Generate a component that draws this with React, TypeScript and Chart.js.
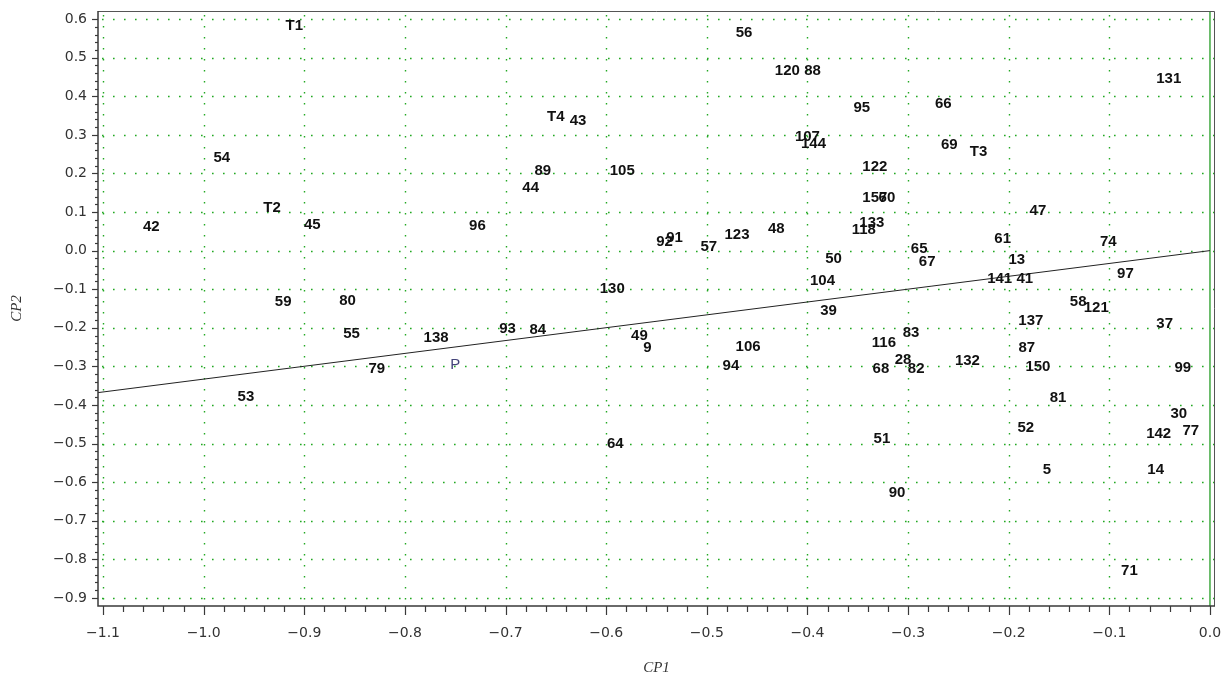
import React, { useEffect, useRef } from "react";
import { Chart, registerables } from "chart.js";

Chart.register(...registerables);

// Observation labels and their coordinates on the first two components
const pointLabels = [
  "T1", "54", "T2", "42", "45", "59", "80", "55", "79", "53",
  "138", "P", "93", "84", "96", "89", "44", "T4", "43", "105",
  "130", "49", "9", "64", "92", "91", "57", "123", "48", "56",
  "120", "88", "107", "144", "95", "66", "122", "157", "60", "133",
  "118", "69", "T3", "50", "104", "39", "106", "94", "65", "67",
  "116", "83", "28", "68", "82", "51", "90", "132", "61", "13",
  "141", "41", "47", "137", "87", "150", "81", "52", "5", "74",
  "97", "58", "121", "37", "99", "30", "142", "77", "14", "71",
  "131",
];

const cp1 = [
  -0.910, -0.982, -0.932, -1.052, -0.892, -0.921, -0.857, -0.853, -0.828, -0.958,
  -0.769, -0.750, -0.698, -0.668, -0.728, -0.663, -0.675, -0.650, -0.628, -0.584,
  -0.594, -0.567, -0.559, -0.591, -0.542, -0.532, -0.498, -0.470, -0.431, -0.463,
  -0.420, -0.395, -0.400, -0.394, -0.346, -0.265, -0.333, -0.333, -0.321, -0.336,
  -0.344, -0.259, -0.230, -0.374, -0.385, -0.379, -0.459, -0.476, -0.289, -0.281,
  -0.324, -0.297, -0.305, -0.327, -0.292, -0.326, -0.311, -0.241, -0.206, -0.192,
  -0.209, -0.184, -0.171, -0.178, -0.182, -0.171, -0.151, -0.183, -0.162, -0.101,
  -0.084, -0.131, -0.113, -0.045, -0.027, -0.031, -0.051, -0.019, -0.054, -0.080,
  -0.041,
];

const cp2 = [
  0.582, 0.241, 0.111, 0.062, 0.067, -0.133, -0.130, -0.217, -0.307, -0.378,
  -0.227, -0.295, -0.204, -0.206, 0.063, 0.207, 0.163, 0.347, 0.336, 0.207,
  -0.098, -0.221, -0.251, -0.502, 0.023, 0.034, 0.011, 0.040, 0.057, 0.565,
  0.466, 0.466, 0.295, 0.277, 0.371, 0.381, 0.217, 0.137, 0.136, 0.073,
  0.053, 0.274, 0.257, -0.021, -0.079, -0.156, -0.249, -0.299, 0.005, -0.029,
  -0.240, -0.212, -0.284, -0.307, -0.307, -0.487, -0.627, -0.286, 0.031, -0.024,
  -0.074, -0.072, 0.103, -0.182, -0.251, -0.301, -0.381, -0.459, -0.568, 0.023,
  -0.060, -0.133, -0.148, -0.189, -0.305, -0.424, -0.476, -0.466, -0.569, -0.830,
  0.444,
];

// Fitted direction through the origin
const trendX = [-1.105, 0];
const trendY = [-0.368, 0];

// Axis ticks
const xTickValues = [-1.1, -1.0, -0.9, -0.8, -0.7, -0.6, -0.5, -0.4, -0.3, -0.2, -0.1, 0.0];
const xTickLabels = ["−1.1", "−1.0", "−0.9", "−0.8", "−0.7", "−0.6", "−0.5", "−0.4", "−0.3", "−0.2", "−0.1", "0.0"];
const yTickValues = [0.6, 0.5, 0.4, 0.3, 0.2, 0.1, 0.0, -0.1, -0.2, -0.3, -0.4, -0.5, -0.6, -0.7, -0.8, -0.9];
const yTickLabels = ["0.6", "0.5", "0.4", "0.3", "0.2", "0.1", "0.0", "−0.1", "−0.2", "−0.3", "−0.4", "−0.5", "−0.6", "−0.7", "−0.8", "−0.9"];
const minorStep = 0.02;

const GRID_GREEN = "#22a822";
const AXIS_DARK = "#3a3a3a";

const decorPlugin = {
  id: "decor",
  beforeDatasetsDraw(chart: any) {
    const { ctx, chartArea: a, scales } = chart;
    const x = scales.x;
    const y = scales.y;
    ctx.save();
    ctx.strokeStyle = GRID_GREEN;
    ctx.lineWidth = 1.4;
    ctx.setLineDash([1.6, 9.4]);
    xTickValues.forEach((v) => {
      if (v === 0) return;
      const px = Math.round(x.getPixelForValue(v)) + 0.5;
      ctx.beginPath();
      ctx.moveTo(px, a.top + 4);
      ctx.lineTo(px, a.bottom);
      ctx.stroke();
    });
    yTickValues.forEach((v) => {
      const py = Math.round(y.getPixelForValue(v)) + 0.5;
      ctx.beginPath();
      ctx.moveTo(a.left + 4, py);
      ctx.lineTo(a.right, py);
      ctx.stroke();
    });
    ctx.setLineDash([]);
    // reference line at CP1 = 0
    const zx = x.getPixelForValue(0);
    ctx.strokeStyle = "#4cae4c";
    ctx.lineWidth = 1.6;
    ctx.beginPath();
    ctx.moveTo(zx, a.top);
    ctx.lineTo(zx, a.bottom);
    ctx.stroke();
    ctx.restore();
  },
  afterDatasetsDraw(chart: any) {
    const { ctx, chartArea: a, scales } = chart;
    const x = scales.x;
    const y = scales.y;
    ctx.save();

    // frame
    ctx.strokeStyle = "#555";
    ctx.lineWidth = 1;
    ctx.beginPath();
    ctx.moveTo(a.left, a.top + 0.5);
    ctx.lineTo(a.right - 0.5, a.top + 0.5);
    ctx.lineTo(a.right - 0.5, a.bottom);
    ctx.stroke();
    ctx.strokeStyle = AXIS_DARK;
    ctx.lineWidth = 1.5;
    ctx.beginPath();
    ctx.moveTo(a.left, a.top);
    ctx.lineTo(a.left, a.bottom);
    ctx.lineTo(a.right, a.bottom);
    ctx.stroke();

    // tick marks
    ctx.lineWidth = 1.2;
    const xmin = xTickValues[0];
    const xmax = xTickValues[xTickValues.length - 1];
    const nx = Math.round((xmax - xmin) / minorStep);
    for (let i = 0; i <= nx; i++) {
      const v = xmin + i * minorStep;
      const major = i % 5 === 0;
      const px = Math.round(x.getPixelForValue(v)) + 0.5;
      ctx.beginPath();
      ctx.moveTo(px, a.bottom);
      ctx.lineTo(px, a.bottom + (major ? 9 : 6));
      ctx.stroke();
    }
    const ymin = yTickValues[yTickValues.length - 1];
    const ymax = yTickValues[0];
    const ny = Math.round((ymax - ymin) / minorStep);
    for (let i = 0; i <= ny; i++) {
      const v = ymin + i * minorStep;
      const major = i % 5 === 0;
      const py = Math.round(y.getPixelForValue(v)) + 0.5;
      ctx.beginPath();
      ctx.moveTo(a.left, py);
      ctx.lineTo(a.left - (major ? 6 : 3), py);
      ctx.stroke();
    }

    // observation labels
    const meta = chart.getDatasetMeta(1);
    ctx.textAlign = "center";
    ctx.textBaseline = "middle";
    meta.data.forEach((el: any, i: number) => {
      const label = pointLabels[i];
      if (label === "P") {
        ctx.font = "15px 'Liberation Sans', Arial, sans-serif";
        ctx.fillStyle = "#44447a";
      } else {
        ctx.font = "bold 15px 'Liberation Sans', Arial, sans-serif";
        ctx.fillStyle = "#111";
      }
      ctx.fillText(label, el.x, el.y);
    });
    ctx.restore();
  },
};

const zeroScalePadding = (scale: any) => {
  scale.paddingLeft = 0;
  scale.paddingRight = 0;
  scale.paddingTop = 0;
  scale.paddingBottom = 0;
};

export default function App() {
  const canvasRef = useRef<HTMLCanvasElement | null>(null);

  useEffect(() => {
    const canvas = canvasRef.current;
    if (!canvas) return;

    const trendData = trendX.map((v, i) => ({ x: v, y: trendY[i] }));
    const obsData = cp1.map((v, i) => ({ x: v, y: cp2[i] }));

    const chart = new Chart(canvas, {
      type: "scatter",
      data: {
        datasets: [
          {
            type: "line",
            data: trendData,
            borderColor: "#222",
            borderWidth: 1,
            pointRadius: 0,
            fill: false,
          } as any,
          {
            data: obsData,
            pointRadius: 0,
            pointHoverRadius: 0,
          },
        ],
      },
      options: {
        responsive: false,
        devicePixelRatio: 1,
        animation: false,
        events: [],
        layout: { padding: { top: 11, right: 6, left: 0, bottom: 0 } },
        plugins: {
          legend: { display: false },
          tooltip: { enabled: false },
        },
        scales: {
          x: {
            type: "linear",
            min: -1.105,
            max: 0.005,
            afterBuildTicks: (axis: any) => {
              axis.ticks = xTickValues.map((v) => ({ value: v }));
            },
            afterFit: (scale: any) => {
              scale.height = 70;
              zeroScalePadding(scale);
            },
            grid: { display: false, drawTicks: false },
            border: { display: false },
            ticks: {
              autoSkip: false,
              maxRotation: 0,
              minRotation: 0,
              padding: 19,
              color: "#333",
              font: { family: "'DejaVu Sans', sans-serif", size: 14 },
              callback: (_v: any, i: number) => xTickLabels[i],
            },
            title: {
              display: true,
              text: "CP1",
              color: "#333",
              padding: { top: 0, bottom: 0 },
              font: { family: "'Liberation Serif', serif", style: "italic", size: 15, lineHeight: 1 },
            },
          },
          y: {
            type: "linear",
            min: -0.921,
            max: 0.621,
            afterBuildTicks: (axis: any) => {
              axis.ticks = yTickValues.map((v) => ({ value: v }));
            },
            afterFit: (scale: any) => {
              scale.width = 98;
              zeroScalePadding(scale);
            },
            grid: { display: false, drawTicks: false },
            border: { display: false },
            ticks: {
              autoSkip: false,
              padding: 11,
              color: "#333",
              font: { family: "'DejaVu Sans', sans-serif", size: 14 },
              callback: (_v: any, i: number) => yTickLabels[i],
            },
            title: {
              display: true,
              text: "CP2",
              color: "#333",
              padding: { top: 10, bottom: 0 },
              font: { family: "'Liberation Serif', serif", style: "italic", size: 15, lineHeight: 1 },
            },
          },
        },
      },
      plugins: [decorPlugin],
    });

    return () => {
      chart.destroy();
    };
  }, []);

  return (
    <div style={{ position: "absolute", left: 0, top: 0, width: 1221, height: 676, background: "#fff" }}>
      <canvas ref={canvasRef} width={1221} height={676} style={{ display: "block" }} />
    </div>
  );
}
